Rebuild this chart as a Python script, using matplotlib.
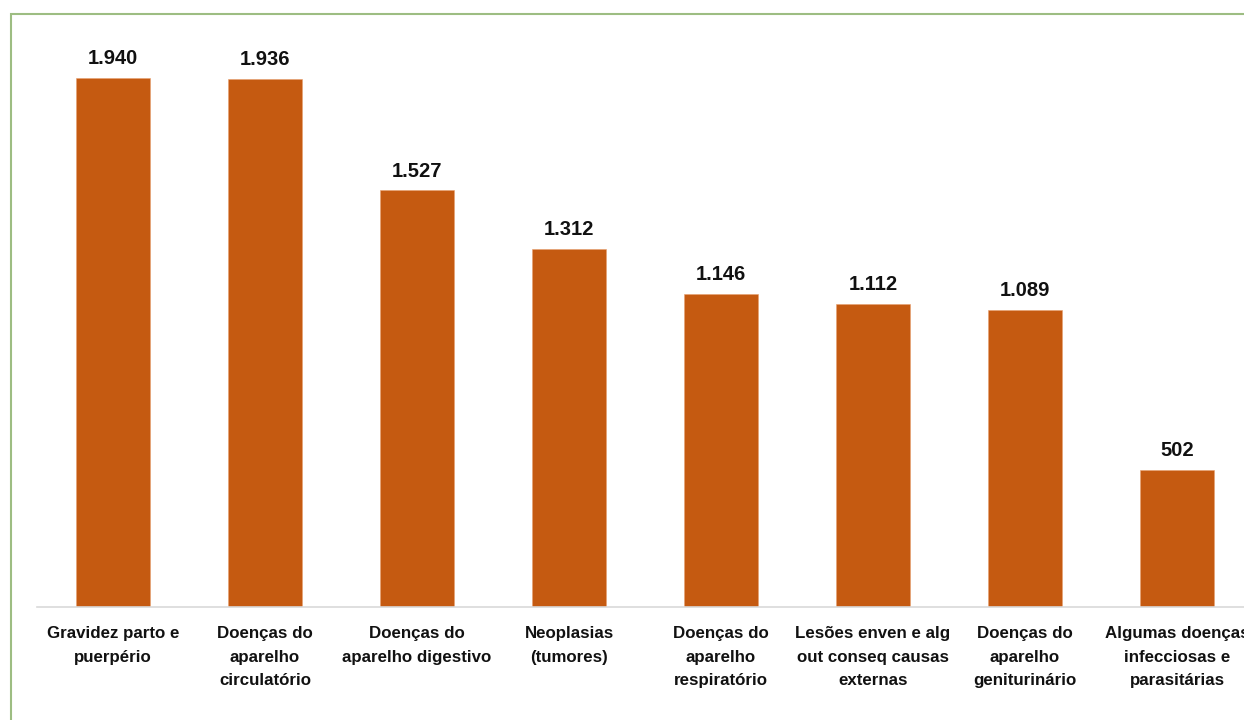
import matplotlib.pyplot as plt
from matplotlib.patches import Rectangle

# categorias e valores
categorias = [
    "Gravidez parto e\npuerpério",
    "Doenças do\naparelho\ncirculatório",
    "Doenças do\naparelho digestivo",
    "Neoplasias\n(tumores)",
    "Doenças do\naparelho\nrespiratório",
    "Lesões enven e alg\nout conseq causas\nexternas",
    "Doenças do\naparelho\ngeniturinário",
    "Algumas doenças\ninfecciosas e\nparasitárias",
]
valores = [1940, 1936, 1527, 1312, 1146, 1112, 1089, 502]
rotulos = ["1.940", "1.936", "1.527", "1.312", "1.146", "1.112", "1.089", "502"]

plt.rcParams["font.family"] = ["Liberation Sans", "DejaVu Sans"]

W, H = 1244, 720
fig = plt.figure(figsize=(W / 100, H / 100), dpi=100)

# borda verde da área do gráfico
fig.patches.append(Rectangle((11 / W, -0.1), 1.2, (720 - 14) / H + 0.1,
                             transform=fig.transFigure, fill=False,
                             edgecolor="#9DBD82", linewidth=1.5))

# eixo mais largo que a figura: a última barra fica cortada (como no original)
ax = fig.add_axes([37 / W, (720 - 607) / H, 1216 / W, 573 / H])
x = range(len(valores))
ax.bar(x, valores, width=0.49, color="#C55A11", edgecolor="#E8A070", linewidth=0.4)

for xi, v, r in zip(x, valores, rotulos):
    ax.text(xi, v + 36, r, ha="center", va="bottom", fontsize=14.5,
            fontweight="bold", color="#111111")

ax.set_xlim(-0.5, 7.5)
ax.set_ylim(0, 2100)
ax.set_xticks(list(x))
ax.set_xticklabels(categorias, fontsize=12.2, fontweight="bold",
                   color="#111111", linespacing=1.7)
ax.tick_params(axis="x", length=0, pad=14)
ax.set_yticks([])
for s in ["top", "right", "left"]:
    ax.spines[s].set_visible(False)
ax.spines["bottom"].set_color("#D9D9D9")
ax.spines["bottom"].set_linewidth(1.2)

fig.savefig("out.png", dpi=100)
